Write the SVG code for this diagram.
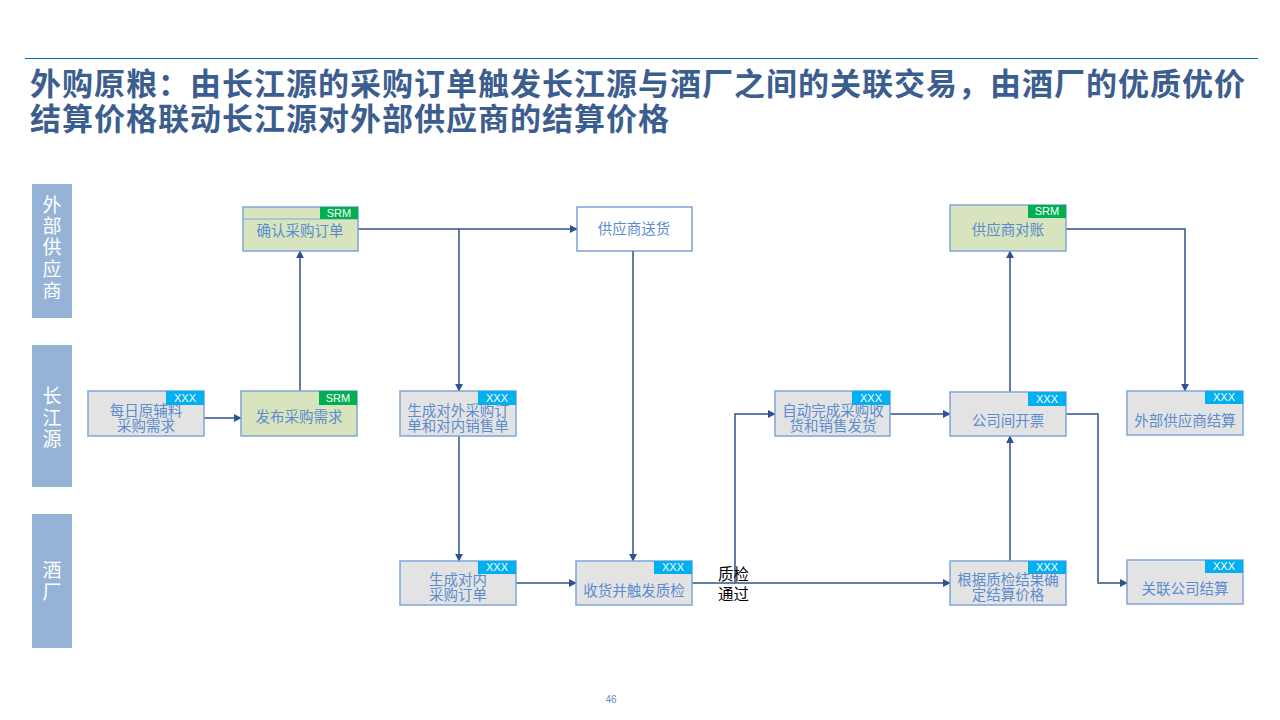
<svg xmlns="http://www.w3.org/2000/svg" width="1280" height="720" viewBox="0 0 1280 720">
<defs>
<marker id="arr" viewBox="0 0 10 10" refX="9" refY="5" markerWidth="8" markerHeight="8" markerUnits="userSpaceOnUse" orient="auto">
<path d="M0,0 L10,5 L0,10 z" fill="#2F528F"/>
</marker>
<style>
.title{font-family:"Liberation Sans","Noto Sans CJK SC",sans-serif;font-weight:bold;font-size:31px;letter-spacing:1px;fill:#3B5E8F}
.lane{fill:#95B3D7}
.lanet{font-family:"Liberation Sans","Noto Sans CJK SC",sans-serif;font-size:19px;fill:#FFFFFF;text-anchor:middle}
.ng{fill:#E3E3E3;stroke:#7EA6DC;stroke-width:1.5}
.nv{fill:#D7E4BD;stroke:#7EA6DC;stroke-width:1.5}
.nw{fill:#FFFFFF;stroke:#5B8BCB;stroke-width:1.2}
.tx{fill:#00B0F0}
.ts{fill:#00B050}
.tt{font-family:"Liberation Sans","Noto Sans CJK SC",sans-serif;font-size:11px;fill:#FFFFFF;text-anchor:middle}
.nt{font-family:"Liberation Sans","Noto Sans CJK SC",sans-serif;font-size:14.5px;fill:#5B8BD0;text-anchor:middle}
.c{fill:none;stroke:#2F528F;stroke-width:1.5}
.lbl{font-family:"Liberation Sans","Noto Sans CJK SC",sans-serif;font-size:15.5px;fill:#000000}
</style>
</defs>
<rect width="1280" height="720" fill="#FFFFFF"/>
<line x1="25" y1="58.5" x2="1258" y2="58.5" stroke="#0070C0" stroke-width="1.2"/>
<text class="title" x="30" y="95">外购原粮：由长江源的采购订单触发长江源与酒厂之间的关联交易，由酒厂的优质优价</text>
<text class="title" x="30" y="130">结算价格联动长江源对外部供应商的结算价格</text>

<g id="lane-supplier"><rect class="lane" x="32" y="184" width="40" height="134"/>
<text class="lanet" x="52" y="212">外</text><text class="lanet" x="52" y="233">部</text><text class="lanet" x="52" y="254">供</text><text class="lanet" x="52" y="276">应</text><text class="lanet" x="52" y="298">商</text></g>
<g id="lane-cjy"><rect class="lane" x="32" y="345" width="40" height="142"/>
<text class="lanet" x="52" y="403">长</text><text class="lanet" x="52" y="425">江</text><text class="lanet" x="52" y="446">源</text></g>
<g id="lane-jc"><rect class="lane" x="32" y="514" width="40" height="134"/>
<text class="lanet" x="52" y="577">酒</text><text class="lanet" x="52" y="599">厂</text></g>

<g id="connectors">
<line class="c" x1="204" y1="418" x2="241" y2="418" marker-end="url(#arr)"/>
<line class="c" x1="300" y1="391" x2="300" y2="251" marker-end="url(#arr)"/>
<line class="c" x1="358" y1="229" x2="577" y2="229" marker-end="url(#arr)"/>
<polyline class="c" points="459,229 459,391" marker-end="url(#arr)"/>
<line class="c" x1="459" y1="436" x2="459" y2="561" marker-end="url(#arr)"/>
<line class="c" x1="633" y1="251" x2="633" y2="561" marker-end="url(#arr)"/>
<line class="c" x1="516" y1="583" x2="576" y2="583" marker-end="url(#arr)"/>
<line class="c" x1="692" y1="583" x2="950" y2="583" marker-end="url(#arr)"/>
<polyline class="c" points="735,583 735,414 775,414" marker-end="url(#arr)"/>
<line class="c" x1="890" y1="414" x2="950" y2="414" marker-end="url(#arr)"/>
<line class="c" x1="1010" y1="561" x2="1010" y2="436" marker-end="url(#arr)"/>
<line class="c" x1="1010" y1="392" x2="1010" y2="251" marker-end="url(#arr)"/>
<polyline class="c" points="1066,229 1185,229 1185,391" marker-end="url(#arr)"/>
<polyline class="c" points="1066,414 1098,414 1098,583 1127,583" marker-end="url(#arr)"/>
<text class="lbl" x="718" y="580">质检</text>
<text class="lbl" x="718" y="600">通过</text>
</g>

<g id="n-confirm"><rect class="nv" x="243" y="207" width="115" height="44"/><line x1="243" y1="219" x2="358" y2="219" stroke="#7EA6DC" stroke-width="1.2"/><rect class="ts" x="320" y="207" width="38" height="12"/><text class="tt" x="339" y="217">SRM</text><text class="nt" x="300" y="236">确认采购订单</text></g>
<g id="n-deliver"><rect class="nw" x="577" y="207" width="115" height="44"/><text class="nt" x="634" y="234">供应商送货</text></g>
<g id="n-reconcile"><rect class="nv" x="950" y="205" width="116" height="46"/><rect class="ts" x="1028" y="205" width="38" height="13"/><text class="tt" x="1047" y="215">SRM</text><text class="nt" x="1008" y="235">供应商对账</text></g>

<g id="n-daily"><rect class="ng" x="88" y="391" width="116" height="45"/><rect class="tx" x="166" y="391" width="38" height="14"/><text class="tt" x="185" y="402">XXX</text><text class="nt" x="146" y="416">每日原辅料</text><text class="nt" x="146" y="431">采购需求</text></g>
<g id="n-publish"><rect class="nv" x="241" y="391" width="116" height="45"/><rect class="ts" x="319" y="391" width="38" height="14"/><text class="tt" x="338" y="402">SRM</text><text class="nt" x="299" y="422">发布采购需求</text></g>
<g id="n-genext"><rect class="ng" x="400" y="391" width="116" height="45"/><rect class="tx" x="478" y="391" width="38" height="14"/><text class="tt" x="497" y="402">XXX</text><text class="nt" x="458" y="416">生成对外采购订</text><text class="nt" x="458" y="431">单和对内销售单</text></g>
<g id="n-auto"><rect class="ng" x="775" y="391" width="115" height="45"/><rect class="tx" x="852" y="391" width="38" height="14"/><text class="tt" x="871" y="402">XXX</text><text class="nt" x="833" y="416">自动完成采购收</text><text class="nt" x="833" y="431">货和销售发货</text></g>
<g id="n-invoice"><rect class="ng" x="950" y="392" width="116" height="44"/><rect class="tx" x="1028" y="392" width="38" height="14"/><text class="tt" x="1047" y="403">XXX</text><text class="nt" x="1008" y="426">公司间开票</text></g>
<g id="n-extsettle"><rect class="ng" x="1127" y="391" width="116" height="44"/><rect class="tx" x="1205" y="391" width="38" height="13"/><text class="tt" x="1224" y="401">XXX</text><text class="nt" x="1185" y="426">外部供应商结算</text></g>

<g id="n-genint"><rect class="ng" x="400" y="561" width="116" height="44"/><rect class="tx" x="478" y="561" width="38" height="13"/><text class="tt" x="497" y="571">XXX</text><text class="nt" x="458" y="585">生成对内</text><text class="nt" x="458" y="600">采购订单</text></g>
<g id="n-receive"><rect class="ng" x="576" y="561" width="116" height="44"/><rect class="tx" x="654" y="561" width="38" height="13"/><text class="tt" x="673" y="571">XXX</text><text class="nt" x="634" y="596">收货并触发质检</text></g>
<g id="n-price"><rect class="ng" x="950" y="561" width="116" height="44"/><rect class="tx" x="1028" y="561" width="38" height="13"/><text class="tt" x="1047" y="571">XXX</text><text class="nt" x="1008" y="585">根据质检结果确</text><text class="nt" x="1008" y="600">定结算价格</text></g>
<g id="n-relsettle"><rect class="ng" x="1127" y="560" width="116" height="44"/><rect class="tx" x="1205" y="560" width="38" height="13"/><text class="tt" x="1224" y="570">XXX</text><text class="nt" x="1185" y="594">关联公司结算</text></g>

<text x="611" y="703" font-family="Liberation Sans, sans-serif" font-size="10" fill="#5B8BD0" text-anchor="middle">46</text>
</svg>
